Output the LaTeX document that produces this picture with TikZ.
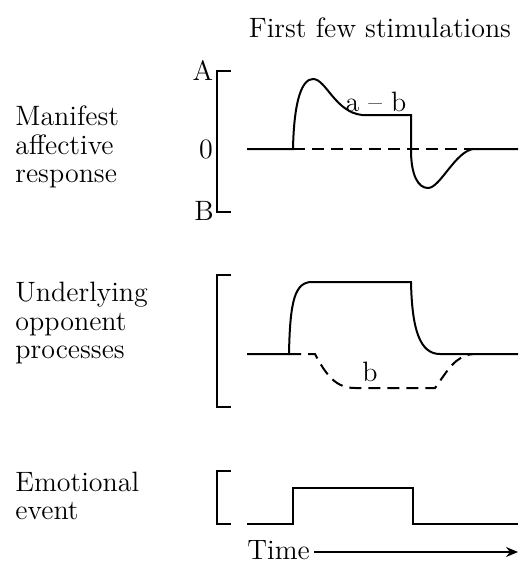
\documentclass[tikz,border=0pt]{standalone}
\usepackage{tikz}
\usetikzlibrary{arrows.meta}

\begin{document}
\begin{tikzpicture}[x=0.5pt, y=-0.5pt,
        % Labels at the left of each panel
        label/.style={anchor=west, align=left, inner sep=0pt,
            font=\fontsize{14}{14.25}\selectfont},
        % Small scale letters (A, 0, B) and curve names
        tag/.style={inner sep=0pt, font=\fontsize{14}{14.25}\selectfont},
        % Square brackets marking each panel's range
        bracket/.style={draw=black, line width=0.9pt},
        % Traces
        trace/.style={draw=black, line width=1pt},
        opp/.style={draw=black, line width=1pt, dash pattern=on 6pt off 3.5pt},
        ]

        \useasboundingbox (0,0) rectangle (523,563);

        % === Heading ===
        \node[tag] (head) at (380,28) {First few stimulations};

        % === Panel labels ===
        \node[label] (manifest) at (15,147) {Manifest\\affective\\response};
        \node[label] (underlying) at (15,323) {Underlying\\opponent\\processes};
        \node[label] (emotional) at (15,496) {Emotional\\event};

        % === Top panel: manifest response ===
        \draw[bracket] (231,71) -- (217,71) -- (217,212) -- (231,212);
        \node[tag] (tagA) at (203,70) {A};
        \node[tag] (tag0) at (206,149) {0};
        \node[tag] (tagB) at (204,211) {B};
        \draw[opp] (293,149) -- (473,149);
        \draw[trace] (247,149) -- (293,149)
            .. controls (294,100) and (302,79) .. (313,79)
            .. controls (326,79) and (335,112) .. (362,115)
            -- (411,115) -- (411,150)
            .. controls (411,175) and (418,188) .. (428,188)
            .. controls (440,188) and (455,152) .. (473,149)
            -- (518,149);
        \node[tag] (ab) at (376,102) {a -- b};

        % === Middle panel: opponent processes ===
        \draw[bracket] (231,275) -- (217,275) -- (217,407) -- (231,407);
        \draw[trace] (247,354) -- (289,354)
            .. controls (290,300) and (295,282) .. (312,282)
            -- (411,282)
            .. controls (412,330) and (420,354) .. (440,354)
            -- (518,354);
        \draw[opp] (289,354) -- (315,354)
            .. controls (327,377) and (337,388) .. (355,388)
            -- (435,388)
            .. controls (448,370) and (455,356) .. (473,354);
        \node[tag] (b) at (370,372) {b};

        % === Bottom panel: emotional event ===
        \draw[bracket] (231,471) -- (217,471) -- (217,524) -- (231,524);
        \draw[trace] (247,524) -- (293,524) -- (293,488) -- (413,488)
            -- (413,524) -- (518,524);

        % === Time axis ===
        \node[tag, anchor=base west] (time) at (247,559) {Time};
        \coordinate (tend) at (518,552);
        \draw[line width=0.8pt, -{Stealth[length=6pt, width=5pt]}]
            (time.east |- tend) ++(4,0) -- (tend);

    \end{tikzpicture}
\end{document}
